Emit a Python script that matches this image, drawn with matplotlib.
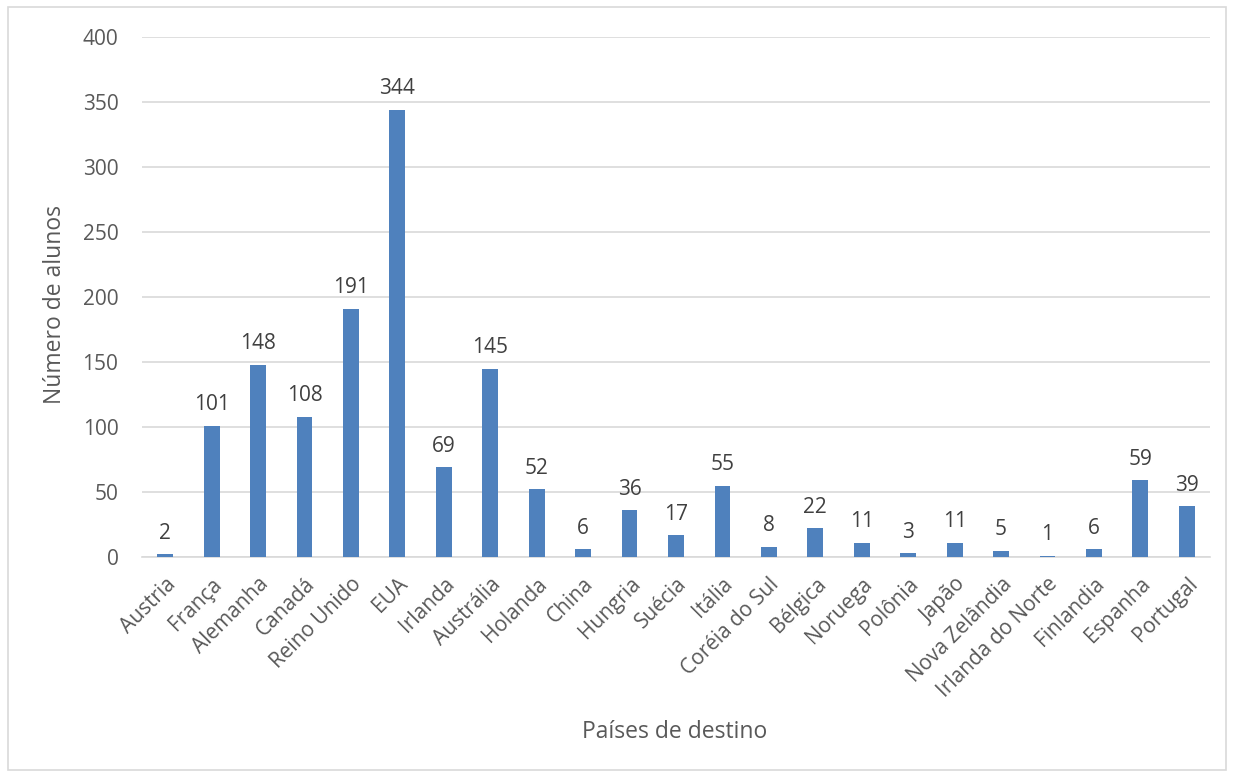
import matplotlib.pyplot as plt
from matplotlib.patches import Rectangle

paises = ["Austria", "França", "Alemanha", "Canadá", "Reino Unido", "EUA",
          "Irlanda", "Austrália", "Holanda", "China", "Hungria", "Suécia",
          "Itália", "Coréia do Sul", "Bélgica", "Noruega", "Polônia", "Japão",
          "Nova Zelândia", "Irlanda do Norte", "Finlandia", "Espanha", "Portugal"]
alunos = [2, 101, 148, 108, 191, 344, 69, 145, 52, 6, 36, 17, 55, 8, 22, 11,
          3, 11, 5, 1, 6, 59, 39]
y_ticks = [0, 50, 100, 150, 200, 250, 300, 350, 400]

plt.rcParams['font.family'] = ['Open Sans', 'DejaVu Sans']
texto = '#595959'
grade = '#D9D9D9'

fig = plt.figure(figsize=(12.4, 7.74), dpi=100)
ax = fig.add_axes([142 / 1240, 1 - 557 / 774, 1068 / 1240, 520 / 774])

x = range(len(paises))
bars = ax.bar(x, alunos, width=0.34, color='#4F81BD', zorder=3)
for b, v in zip(bars, alunos):
    ax.text(b.get_x() + b.get_width() / 2, v + 8, str(v), ha='center',
            va='bottom', fontsize=15, color='#404040')

ax.set_xlim(-0.5, len(paises) - 0.5)
ax.set_ylim(0, 400)
ax.set_yticks(y_ticks)
ax.set_yticklabels([str(t) for t in y_ticks])
ax.set_xticks(list(x))
ax.set_xticklabels(paises, rotation=45, ha='right', rotation_mode='anchor')
ax.tick_params(axis='both', length=0, labelsize=15, colors=texto)
ax.tick_params(axis='y', pad=17)
ax.tick_params(axis='x', pad=12)
ax.yaxis.grid(True, color=grade, linewidth=1.2, zorder=0)
for s in ['top', 'right', 'left']:
    ax.spines[s].set_visible(False)
ax.spines['bottom'].set_color(grade)
ax.spines['bottom'].set_linewidth(1.2)

fig.text(55 / 1240, 1 - 305 / 774, "Número de alunos", rotation=90,
         ha='center', va='center', fontsize=16.5, color=texto)
fig.text(675 / 1240, 1 - 732 / 774, "Países de destino", ha='center',
         va='center', fontsize=16.5, color=texto)

# moldura externa do gráfico
fig.patches.append(Rectangle((8 / 1240, 4 / 774), 1218 / 1240, 763 / 774,
                             transform=fig.transFigure, fill=False,
                             edgecolor=grade, linewidth=1.2))

fig.savefig("out.png", dpi=100, facecolor='white')
